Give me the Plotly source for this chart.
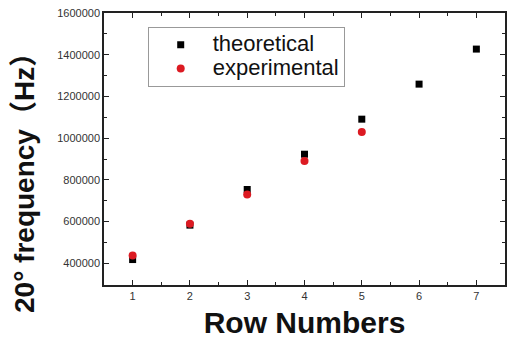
import plotly.graph_objects as go

rows = [1, 2, 3, 4, 5, 6, 7]
theoretical = [418000, 583000, 754000, 923000, 1091000, 1259000, 1427000]
rows_exp = [1, 2, 3, 4, 5]
experimental = [438000, 590000, 730000, 890000, 1029000]

y_ticks = [400000, 600000, 800000, 1000000, 1200000, 1400000, 1600000]
x_ticks = [1, 2, 3, 4, 5, 6, 7]

legend_size = 22

fig = go.Figure()
fig.add_trace(go.Scatter(x=rows, y=theoretical, mode="markers",
                         name=f"<span style='font-size:{legend_size}px'>theoretical</span>",
                         marker=dict(symbol="square", size=7, color="#000000")))
fig.add_trace(go.Scatter(x=rows_exp, y=experimental, mode="markers",
                         name=f"<span style='font-size:{legend_size}px'>experimental</span>",
                         marker=dict(symbol="circle", size=8, color="#dc1a22")))

axis_common = dict(showline=True, linecolor="#222222", linewidth=1.5, mirror="ticks",
                   ticks="inside", ticklen=5, tickwidth=1, tickcolor="#222222",
                   showgrid=False, zeroline=False,
                   tickfont=dict(family="Arial", size=11, color="#333333"))

fig.update_xaxes(range=[0.5, 7.5], tickvals=x_ticks, ticktext=[str(v) for v in x_ticks],
                 minor=dict(dtick=0.5, ticks="inside", ticklen=3, tickcolor="#222222"),
                 title=dict(text="<b>Row Numbers</b>", font=dict(family="Arial", size=30, color="#111111"),
                            standoff=11),
                 **axis_common)
fig.update_yaxes(range=[296000, 1600000], tickvals=y_ticks, ticktext=[str(v) for v in y_ticks],
                 minor=dict(dtick=100000, ticks="inside", ticklen=3, tickcolor="#222222"),
                 **axis_common)

fig.add_annotation(text="<b>20° frequency（Hz）</b>", textangle=-90,
                   xref="paper", yref="paper", x=-0.2, y=0.4,
                   xanchor="center", yanchor="middle", showarrow=False,
                   font=dict(family="Arial, Noto Sans CJK SC", size=28, color="#111111"))

fig.update_layout(
    width=508, height=340,
    margin=dict(l=104, r=1, t=13, b=55),
    paper_bgcolor="white", plot_bgcolor="white",
    showlegend=True,
    legend=dict(x=0.109, y=0.949, xanchor="left", yanchor="top",
                bordercolor="#999999", borderwidth=1, bgcolor="white",
                font=dict(family="Arial", size=16, color="#111111"),
                itemwidth=54, tracegroupgap=0),
)

fig.write_html("out.html")
